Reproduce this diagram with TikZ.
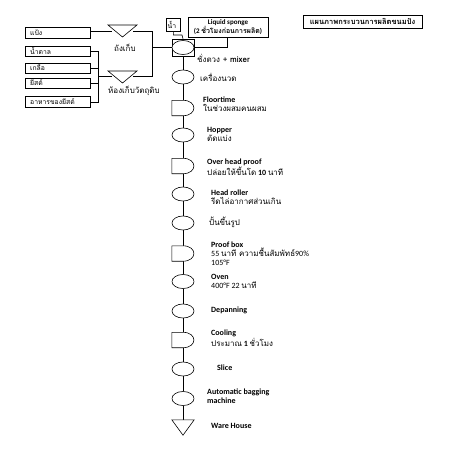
\documentclass[tikz,border=0pt]{standalone}
\usepackage{fontspec}
\setmainfont{Carlito}
\newfontfamily\thf[Script=Thai]{Loma}
\usetikzlibrary{shapes.geometric}
\tikzset{
  op/.style={draw, ellipse, fill=white, minimum width=22pt, minimum height=14pt, inner sep=0pt, line width=0.6pt},
  dbox/.style={minimum width=22pt, minimum height=15pt, inner sep=0pt},
  rbox/.style={draw, line width=0.6pt, inner sep=0pt, anchor=north west},
  lbl/.style={anchor=west, font=\fontsize{8}{9}\selectfont, align=left, inner sep=0pt},
  blbl/.style={anchor=west, font=\fontsize{6.8}{8}\selectfont, align=left, inner sep=0pt},
  ln/.style={line width=0.6pt},
}
\newcommand{\Dshape}[1]{%
  \draw[ln, fill=white] (#1.north west) -- (#1.north) .. controls ([xshift=14.5pt]#1.north) and ([xshift=14.5pt]#1.south) .. (#1.south) -- (#1.south west) -- cycle;}
\begin{document}
\begin{tikzpicture}[x=1pt,y=-1pt]
\useasboundingbox (0,0) rectangle (453,453);
\fill[white] (0,0) rectangle (453,453);

% title
\node[draw, line width=0.6pt, minimum width=119pt, minimum height=13pt, inner sep=0pt] (title) at (362.5,21.5) {\thf\bfseries\fontsize{7.5}{8}\selectfont แผนภาพกระบวนการผลิตขนมปัง};

% left ingredient boxes
\node[rbox, minimum width=65pt, minimum height=11pt] (flour) at (25,27) {};
\node[blbl] at (30,32.5) {\thf แป้ง};
\node[rbox, minimum width=65pt, minimum height=10pt] (sugar) at (25,46) {};
\node[blbl] at (30,51) {\thf น้ำตาล};
\node[rbox, minimum width=65pt, minimum height=10pt] (salt) at (25,63) {};
\node[blbl] at (30,68) {\thf เกลือ};
\node[rbox, minimum width=65pt, minimum height=10pt] (yeast) at (25,78) {};
\node[blbl] at (30,83) {\thf ยีสต์};
\node[rbox, minimum width=65pt, minimum height=11pt] (yfood) at (25,96) {};
\node[blbl] at (30,101.5) {\thf อาหารของยีสต์};

% storage triangles
\draw[ln] (108,25) -- (137,25) -- (122.5,37) -- cycle;
\coordinate (tankL) at (112,31);
\coordinate (tankR) at (133,31);
\node[lbl] at (114,48) {\thf ถังเก็บ};
\draw[ln] (108,71) -- (137,71) -- (122.5,83) -- cycle;
\coordinate (roomL) at (112,76);
\coordinate (roomR) at (133,76);
\node[lbl] at (108,91) {\thf ห้องเก็บวัตถุดิบ};

% water and liquid sponge
\node[rbox, minimum width=14pt, minimum height=13pt] (water) at (166,18) {};
\node[blbl] at (167.5,24.5) {\thf น้ำ};
\node[rbox, minimum width=80pt, minimum height=20pt] (sponge) at (188,17) {};
\node[anchor=center, font=\fontsize{7}{8.5}\selectfont, align=center, inner sep=0pt] at (228,27) {\textbf{Liquid sponge}\\\textbf{(2 {\thf ชั่วโมงก่อนการผลิต})}};

% main chain shapes
\node[draw, line width=0.6pt, minimum width=22pt, minimum height=17pt, inner sep=0pt] (mixbox) at (183,47.5) {};
\node[op] (mix) at (183,47.5) {};
\node[op] (knead) at (183,77) {};
\node[dbox] (floor) at (183,108) {};
\node[op] (hopper) at (183,135) {};
\node[dbox] (ohp) at (183,166) {};
\node[op] (roller) at (183,194) {};
\node[op] (mould) at (183,223) {};
\node[dbox] (proof) at (183,253.5) {};
\node[op] (oven) at (183,281.5) {};
\node[op] (depan) at (183,311) {};
\node[dbox] (cool) at (183,340) {};
\node[op] (slice) at (183,369) {};
\node[op] (bag) at (183,398.5) {};
\node[dbox, minimum height=15pt] (wh) at (183,427.5) {};

% main connectors
\draw[ln] (mixbox) -- (knead);
\draw[ln] (knead) -- (floor.north);
\draw[ln] (floor.south) -- (hopper);
\draw[ln] (hopper) -- (ohp.north);
\draw[ln] (ohp.south) -- (roller);
\draw[ln] (roller) -- (mould);
\draw[ln] (mould) -- (proof.north);
\draw[ln] (proof.south) -- (oven);
\draw[ln] (oven) -- (depan);
\draw[ln] (depan) -- (cool.north);
\draw[ln] (cool.south) -- (slice);
\draw[ln] (slice) -- (bag);
\draw[ln] (bag) -- (wh.north);

\Dshape{floor}
\Dshape{ohp}
\Dshape{proof}
\Dshape{cool}
\draw[ln, fill=white] (wh.north west) -- (wh.north east) -- (wh.south) -- cycle;

% feed connectors
\coordinate (jL) at (152,47.5);
\draw[ln] (flour.east |- tankL) -- (tankL);
\draw[ln] (tankR) -| (jL);
\draw[ln] (roomR) -| (jL);
\draw[ln] (jL) -- (mixbox.west);
\coordinate (jB) at (98,76);
\draw[ln] (sugar.east) -| (jB);
\draw[ln] (salt.east) -- (salt.east -| jB);
\draw[ln] (yeast.east) -- (yeast.east -| jB);
\draw[ln] (yfood.east) -| (jB);
\draw[ln] (jB) -- (roomL);
\draw[ln] (water.south) |- (182,35) -- (mixbox.north);
\draw[ln] (sponge.south -| 227,0) |- (mixbox.east);

% labels
\node[lbl] at (197,58.5) {\thf ชั่งตวง + \textbf{mixer}};
\node[lbl] at (200,77.5) {\thf เครื่องนวด};
\node[lbl] at (203,104.5) {\textbf{Floortime}\\{\thf ในช่วงผสมคนผสม}};
\node[lbl] at (207,134.5) {\textbf{Hopper}\\{\thf ตัดแบ่ง}};
\node[lbl] at (207,167.5) {\textbf{Over head proof}\\{\thf ปล่อยให้ขึ้นโด} \textbf{10} {\thf นาที}};
\node[lbl] at (211,197) {\textbf{Head roller}\\{\thf รีดไล่อากาศส่วนเกิน}};
\node[lbl] at (209,222.5) {\thf ปั้นขึ้นรูป};
\node[lbl] at (211,254) {\textbf{Proof box}\\55 {\thf นาที ความชื้นสัมพัทธ์}90\%\\105°F};
\node[lbl] at (211,281) {\textbf{Oven}\\400°F 22 {\thf นาที}};
\node[lbl] at (211,310.5) {\textbf{Depanning}};
\node[lbl] at (211,338) {\textbf{Cooling}\\{\thf ประมาณ} \textbf{1} {\thf ชั่วโมง}};
\node[lbl] at (217,368) {\textbf{Slice}};
\node[lbl] at (207,396) {\textbf{Automatic bagging}\\\textbf{machine}};
\node[lbl] at (211,425.5) {\textbf{Ware House}};
\end{tikzpicture}
\end{document}
